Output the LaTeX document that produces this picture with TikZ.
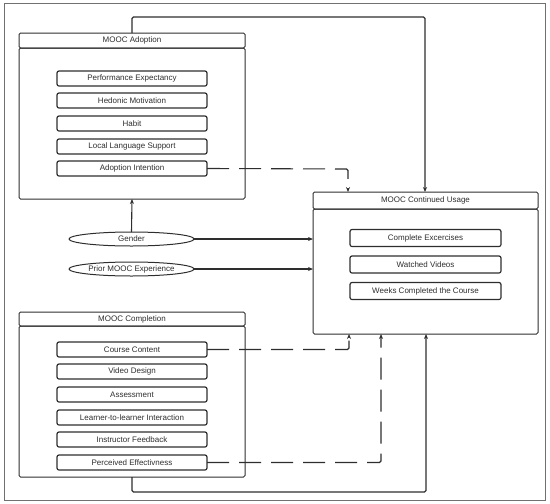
\documentclass[tikz,border=0pt]{standalone}
\usepackage{fontspec}
\setmainfont{Liberation Sans}
\usetikzlibrary{arrows.meta,shapes.geometric}
\definecolor{ln}{HTML}{2E2E2E}
\definecolor{fr}{HTML}{707070}
\begin{document}
\begin{tikzpicture}[x=1pt,y=-1pt,
  every node/.style={font=\fontsize{8}{9.6}\selectfont, text=ln, inner sep=0pt, outer sep=0pt},
  titlebox/.style={draw=ln, line width=1pt, rounded corners=1.5pt, minimum width=226pt},
  bodybox/.style={draw=ln, line width=1pt, rounded corners=1.5pt, minimum width=226pt},
  itembox/.style={draw=ln, line width=1.2pt, rounded corners=2pt, minimum width=150pt, minimum height=15pt},
  oval/.style={draw=ln, line width=1pt, ellipse, minimum width=125pt, minimum height=14pt},
  conn/.style={draw=ln, line width=1.1pt, -{Stealth[length=5pt,width=4pt]}, rounded corners=1.5pt},
  dconn/.style={conn, dash pattern=on 22pt off 10pt}
]
\useasboundingbox (0,0) rectangle (550,504);
\draw[fr, line width=1pt] (4,3) rectangle (545,500);

% MOOC Adoption
\node[bodybox, minimum height=151pt] (adB) at (132,123.5) {};
\node[titlebox, minimum height=15pt] (adT) at (132,40.5) {MOOC Adoption};
\node[itembox] (pe1) at (132,78.5) {Performance Expectancy};
\node[itembox] (hm) at (132,100.5) {Hedonic Motivation};
\node[itembox] (hb) at (132,123.5) {Habit};
\node[itembox] (ll) at (132,146.5) {Local Language Support};
\node[itembox] (ai) at (132,168.5) {Adoption Intention};

% MOOC Continued Usage
\node[bodybox, minimum width=225pt, minimum height=125pt] (cuB) at (425.5,271.5) {};
\node[titlebox, minimum width=225pt, minimum height=17pt] (cuT) at (425.5,200.5) {MOOC Continued Usage};
\node[itembox, minimum width=151pt, minimum height=17pt] (ce) at (425.5,238) {Complete Excercises};
\node[itembox, minimum width=151pt, minimum height=17pt] (wv) at (425.5,264.5) {Watched Videos};
\node[itembox, minimum width=151pt, minimum height=17pt] (wc) at (425.5,291) {Weeks Completed the Course};

% Moderators
\node[oval] (gen) at (131.5,239) {Gender};
\node[oval] (pri) at (131.5,269) {Prior MOOC Experience};

% MOOC Completion
\node[bodybox, minimum height=151pt] (coB) at (132,401.5) {};
\node[titlebox, minimum height=14pt] (coT) at (132,319) {MOOC Completion};
\node[itembox] (cc) at (132,349.5) {Course Content};
\node[itembox] (vd) at (132,371.5) {Video Design};
\node[itembox] (as) at (132,394.5) {Assessment};
\node[itembox] (li) at (132,417.5) {Learner-to-learner Interaction};
\node[itembox] (ifb) at (132,439.5) {Instructor Feedback};
\node[itembox] (pef) at (132,462.5) {Perceived Effectivness};

% connectors
\coordinate (t1) at (132,17);
\coordinate (t2) at (425,17);
\draw[conn] (adT.north) -- (t1) -- (t2) -- (cuT.north -| t2);
\coordinate (d1) at (348,169);
\draw[dconn] (ai.east) -- (d1) -- (cuT.north -| d1);
\draw[conn] (gen.north) -- (adB.south);
\draw[conn] (gen.east) -- (gen.east -| cuB.west);
\draw[conn] (pri.east) -- (pri.east -| cuB.west);
\coordinate (d2) at (349,349.5);
\draw[dconn] (cc.east) -- (d2) -- (cuB.south -| d2);
\coordinate (d3) at (381,462.5);
\draw[dconn] (pef.east) -- (d3) -- (cuB.south -| d3);
\coordinate (b1) at (132,492);
\coordinate (b2) at (426,492);
\draw[conn] (coB.south) -- (b1) -- (b2) -- (cuB.south -| b2);
\end{tikzpicture}
\end{document}
